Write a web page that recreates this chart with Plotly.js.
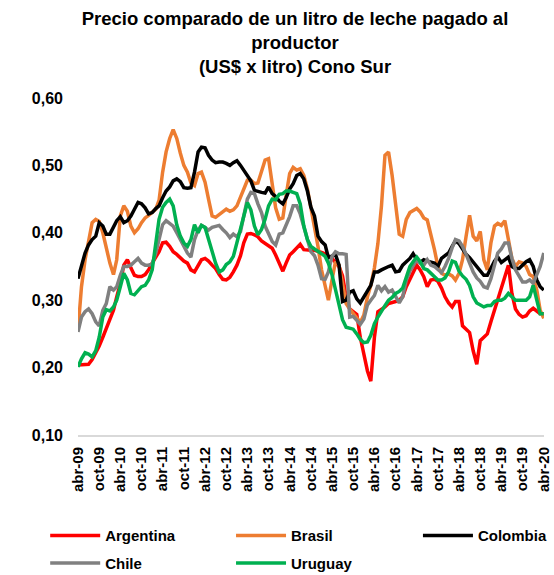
<!DOCTYPE html>
<html>
<head>
<meta charset="utf-8">
<script src="https://cdn.plot.ly/plotly-3.0.1.min.js"></script>
<style>html,body{margin:0;padding:0;background:#fff;}#chart{width:554px;height:575px;}</style>
</head>
<body>
<div id="chart"></div>
<script>
// Monthly series, April 2009 .. April 2020 (133 months), US$ per litre
const startYear = 2009, startMonth = 4;
const tickLabels = ['abr-09','oct-09','abr-10','oct-10','abr-11','oct-11','abr-12','oct-12','abr-13','oct-13','abr-14','oct-14','abr-15','oct-15','abr-16','oct-16','abr-17','oct-17','abr-18','oct-18','abr-19','oct-19','abr-20'];

const argentina = [0.204,0.204,0.204,0.205,0.212,0.222,0.232,0.245,0.257,0.270,0.285,0.305,0.325,0.352,0.360,0.348,0.337,0.335,0.335,0.338,0.345,0.355,0.365,0.372,0.385,0.386,0.380,0.372,0.368,0.362,0.358,0.355,0.345,0.342,0.352,0.360,0.362,0.358,0.352,0.347,0.338,0.331,0.330,0.334,0.342,0.352,0.366,0.385,0.398,0.399,0.397,0.394,0.388,0.384,0.380,0.377,0.367,0.355,0.343,0.355,0.367,0.372,0.378,0.383,0.375,0.374,0.374,0.374,0.373,0.371,0.369,0.366,0.362,0.356,0.350,0.336,0.305,0.287,0.283,0.279,0.245,0.218,0.195,0.180,0.245,0.283,0.286,0.290,0.295,0.296,0.298,0.300,0.305,0.320,0.332,0.342,0.352,0.345,0.335,0.320,0.330,0.331,0.328,0.318,0.305,0.296,0.290,0.298,0.298,0.262,0.257,0.252,0.225,0.205,0.240,0.246,0.250,0.268,0.285,0.302,0.318,0.336,0.352,0.310,0.287,0.279,0.275,0.277,0.284,0.288,0.283,0.280,0.280];

const brasil = [0.255,0.320,0.360,0.390,0.415,0.420,0.417,0.400,0.378,0.355,0.338,0.360,0.425,0.440,0.432,0.410,0.400,0.406,0.415,0.422,0.426,0.430,0.435,0.448,0.490,0.520,0.540,0.553,0.540,0.518,0.500,0.490,0.474,0.470,0.488,0.490,0.475,0.450,0.425,0.423,0.427,0.432,0.435,0.432,0.434,0.440,0.452,0.465,0.478,0.478,0.473,0.474,0.490,0.508,0.510,0.468,0.437,0.420,0.422,0.455,0.488,0.497,0.493,0.495,0.485,0.465,0.438,0.410,0.380,0.345,0.318,0.300,0.330,0.357,0.352,0.325,0.295,0.287,0.280,0.272,0.267,0.278,0.305,0.322,0.348,0.384,0.440,0.515,0.520,0.485,0.445,0.398,0.395,0.420,0.430,0.433,0.436,0.431,0.422,0.419,0.399,0.375,0.350,0.340,0.337,0.339,0.336,0.330,0.340,0.360,0.395,0.426,0.395,0.388,0.402,0.360,0.345,0.385,0.410,0.414,0.411,0.418,0.390,0.362,0.350,0.357,0.355,0.350,0.338,0.335,0.315,0.285,0.273];

const colombia = [0.332,0.350,0.370,0.382,0.390,0.395,0.415,0.410,0.398,0.398,0.410,0.418,0.424,0.415,0.418,0.425,0.435,0.445,0.443,0.437,0.428,0.430,0.436,0.440,0.452,0.462,0.468,0.477,0.480,0.476,0.467,0.466,0.467,0.490,0.520,0.527,0.526,0.515,0.508,0.504,0.505,0.505,0.503,0.500,0.504,0.507,0.500,0.492,0.484,0.477,0.463,0.461,0.460,0.459,0.468,0.458,0.454,0.447,0.443,0.452,0.465,0.473,0.485,0.488,0.480,0.462,0.438,0.425,0.395,0.387,0.382,0.363,0.365,0.368,0.352,0.298,0.300,0.312,0.314,0.302,0.296,0.305,0.312,0.322,0.342,0.342,0.345,0.348,0.350,0.352,0.342,0.343,0.352,0.357,0.362,0.369,0.360,0.356,0.360,0.358,0.357,0.355,0.350,0.362,0.366,0.370,0.380,0.388,0.384,0.376,0.368,0.363,0.356,0.350,0.343,0.337,0.337,0.347,0.358,0.364,0.356,0.360,0.364,0.350,0.347,0.347,0.352,0.357,0.360,0.350,0.330,0.320,0.315];

const chile = [0.253,0.275,0.283,0.287,0.280,0.268,0.262,0.285,0.295,0.320,0.315,0.320,0.337,0.350,0.350,0.352,0.357,0.362,0.355,0.352,0.352,0.354,0.370,0.390,0.412,0.418,0.414,0.410,0.400,0.390,0.378,0.370,0.364,0.390,0.404,0.411,0.408,0.404,0.408,0.410,0.411,0.405,0.400,0.393,0.398,0.394,0.402,0.425,0.450,0.460,0.458,0.443,0.430,0.410,0.398,0.387,0.382,0.398,0.400,0.410,0.424,0.440,0.440,0.428,0.410,0.390,0.372,0.366,0.352,0.332,0.331,0.342,0.365,0.372,0.369,0.369,0.368,0.275,0.276,0.270,0.264,0.272,0.293,0.300,0.307,0.322,0.314,0.320,0.312,0.315,0.305,0.296,0.305,0.330,0.343,0.352,0.360,0.355,0.352,0.360,0.352,0.350,0.345,0.341,0.350,0.362,0.378,0.390,0.388,0.380,0.368,0.355,0.342,0.333,0.328,0.320,0.318,0.332,0.352,0.370,0.376,0.385,0.385,0.362,0.345,0.336,0.327,0.327,0.330,0.325,0.337,0.350,0.370];

const uruguay = [0.201,0.213,0.222,0.220,0.216,0.225,0.245,0.275,0.286,0.284,0.290,0.300,0.320,0.340,0.330,0.310,0.308,0.315,0.320,0.322,0.330,0.345,0.390,0.420,0.438,0.445,0.450,0.440,0.412,0.395,0.385,0.380,0.390,0.412,0.400,0.411,0.408,0.390,0.372,0.355,0.342,0.345,0.353,0.357,0.365,0.385,0.405,0.428,0.445,0.434,0.410,0.397,0.405,0.420,0.440,0.450,0.449,0.457,0.458,0.462,0.462,0.460,0.458,0.443,0.410,0.390,0.380,0.376,0.373,0.369,0.365,0.355,0.338,0.315,0.290,0.271,0.260,0.258,0.257,0.250,0.242,0.237,0.238,0.248,0.265,0.275,0.285,0.292,0.300,0.304,0.310,0.313,0.318,0.335,0.350,0.357,0.364,0.357,0.347,0.345,0.340,0.335,0.330,0.330,0.333,0.342,0.358,0.356,0.343,0.336,0.331,0.322,0.305,0.296,0.293,0.290,0.292,0.292,0.298,0.300,0.300,0.303,0.310,0.305,0.300,0.300,0.300,0.300,0.305,0.322,0.300,0.280,0.280];

function monthDate(i) {
  const t = (startMonth - 1) + i;
  const y = startYear + Math.floor(t / 12);
  const m = (t % 12) + 1;
  return y + '-' + (m < 10 ? '0' : '') + m + '-01';
}
const dates = argentina.map((_, i) => monthDate(i));
const tickVals = tickLabels.map((_, k) => monthDate(k * 6));

const FONT = 'Liberation Sans, Arial, sans-serif';
function mk(name, y, color, legend) {
  return {x: dates, y: y, name: name, type: 'scatter', mode: 'lines',
    line: {color: color, width: 3.5}, legend: legend, legendgroup: name};
}
const traces = [
  mk('Argentina', argentina, '#FF0000', 'legend'),
  mk('Brasil', brasil, '#ED7D31', 'legend2'),
  mk('Colombia', colombia, '#000000', 'legend3'),
  mk('Chile', chile, '#808080', 'legend'),
  mk('Uruguay', uruguay, '#00B050', 'legend2')
];

const legBase = {orientation: 'v', yref: 'container', y: 0.097, yanchor: 'top', xanchor: 'left',
  font: {family: FONT, size: 15, color: '#000', weight: 'bold'}, itemwidth: 50,
  bgcolor: 'rgba(0,0,0,0)', tracegroupgap: 5, traceorder: 'grouped'};

const layout = {
  width: 554, height: 575,
  margin: {l: 78, r: 10, t: 98, b: 139.5},
  paper_bgcolor: '#fff', plot_bgcolor: '#fff',
  separators: ',.',
  font: {family: FONT, color: '#000'},
  title: {text: 'Precio comparado de un litro de leche pagado al<br>productor<br>(US$ x litro) Cono Sur',
    font: {family: FONT, size: 18.5, color: '#000', weight: 'bold'},
    xref: 'container', x: 0.5325, xanchor: 'center', yref: 'container', y: 0.957, yanchor: 'top'},
  xaxis: {type: 'date', range: ['2009-04-01', '2020-04-03'],
    tickmode: 'array', tickvals: tickVals, ticktext: tickLabels, tickangle: -90,
    tickfont: {family: FONT, size: 15, color: '#000', weight: 'bold'},
    ticklabeloverflow: 'allow',
    showgrid: false, zeroline: false, showline: true, linecolor: '#D9D9D9', linewidth: 2,
    ticks: '', ticklabelstandoff: 4, fixedrange: true},
  yaxis: {range: [0.1, 0.6], dtick: 0.1, tick0: 0.1, tickformat: '.2f',
    tickfont: {family: FONT, size: 16, color: '#000', weight: 'bold'},
    showgrid: false, zeroline: false, showline: false, ticks: '', ticklabelstandoff: 14, fixedrange: true},
  legend: Object.assign({}, legBase, {x: -0.0704}),
  legend2: Object.assign({}, legBase, {x: 0.3284}),
  legend3: Object.assign({}, legBase, {x: 0.7295}),
  showlegend: true
};

Plotly.newPlot('chart', traces, layout, {staticPlot: true, displayModeBar: false});
</script>
</body>
</html>
